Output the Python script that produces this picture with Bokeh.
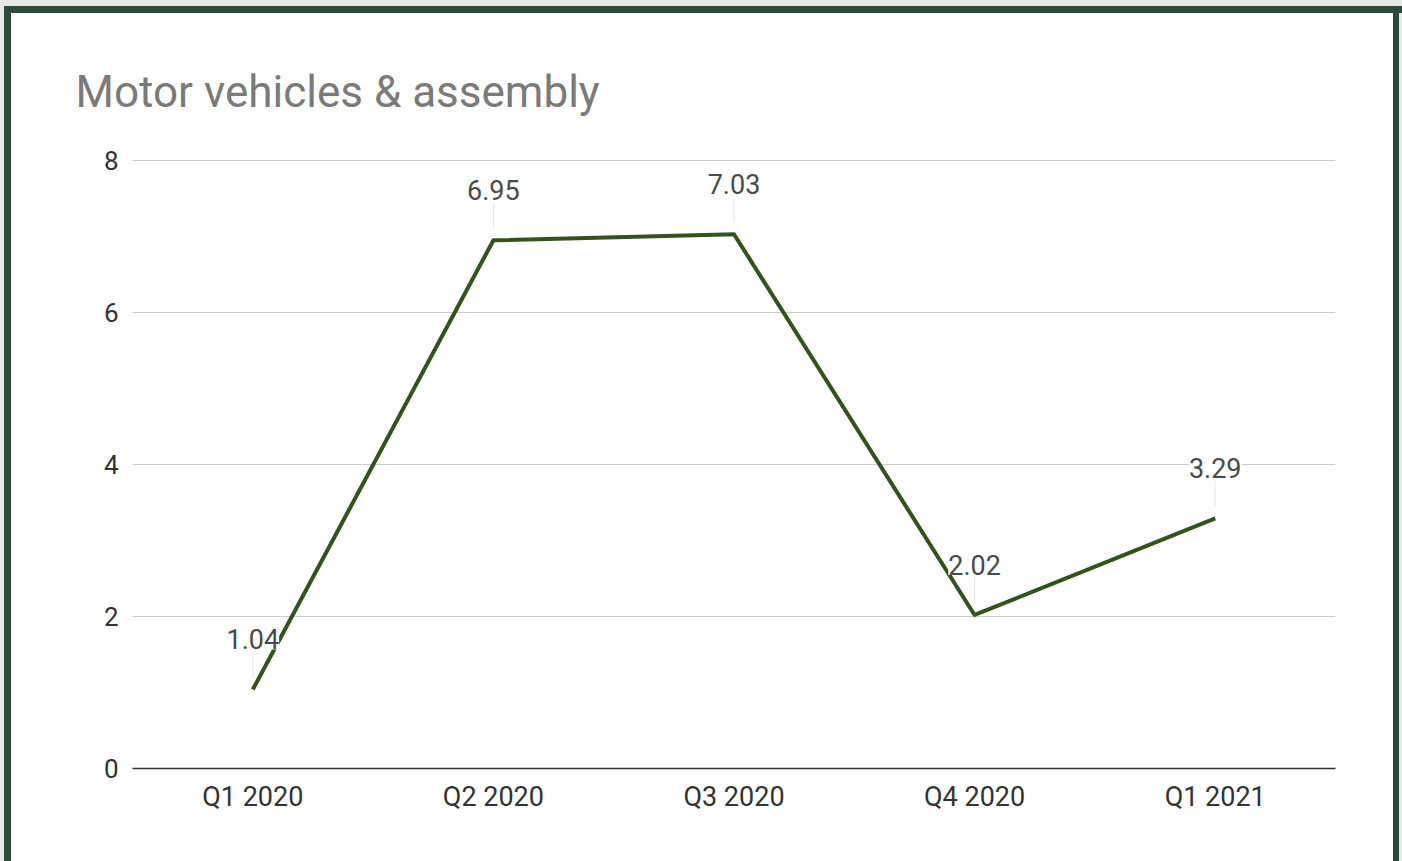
from bokeh.plotting import figure
from bokeh.models import ColumnDataSource, FactorRange, Range1d, LabelSet, FixedTicker
from bokeh.embed import file_html
from bokeh.resources import INLINE
from bokeh.core.properties import value

# ---- data ----
quarters = ["Q1 2020", "Q2 2020", "Q3 2020", "Q4 2020", "Q1 2021"]
values = [1.04, 6.95, 7.03, 2.02, 3.29]
value_labels = ["1.04", "6.95", "7.03", "2.02", "3.29"]
y_ticks = [0, 2, 4, 6, 8]
title_text = "Motor vehicles & assembly"

# ---- layout ----
W, H = 1402, 861
FRAME_LEFT, FRAME_RIGHT, FRAME_TOP, FRAME_BOTTOM = 132, 67, 158, 93
frame_h = H - FRAME_TOP - FRAME_BOTTOM
EXTRA_PX = 2
Y_TOP = 8
px = Y_TOP / (frame_h - EXTRA_PX)  # data units per pixel
Y_MAX = Y_TOP + EXTRA_PX * px

FONT = "Roboto"
LINE_COLOR = "#34521c"

p = figure(
    width=W, height=H,
    x_range=FactorRange(*quarters, range_padding=0),
    y_range=Range1d(0, Y_MAX),
    output_backend="svg", toolbar_location=None,
    min_border_left=FRAME_LEFT, min_border_right=FRAME_RIGHT,
    min_border_top=FRAME_TOP, min_border_bottom=FRAME_BOTTOM,
)
p.styles = {
    "background-color": "white",
    "box-shadow": ("inset 4px 6px 0 0 #e6e9e6, inset 11px 13px 0 0 #2d4a3b, "
                   "inset -3px 0 0 0 #e6e9e6, inset -9px 0 0 0 #2d4a3b"),
}
p.outline_line_color = None
p.background_fill_color = "white"
p.border_fill_color = None

# title
p.title.text = title_text
p.title.align = "left"
p.title.offset = -57
p.title.standoff = 82
p.title.text_font = FONT
p.title.text_font_size = "44px"
p.title.text_font_style = "normal"
p.title.text_color = "#7a7a7a"

# axes
p.yaxis.ticker = FixedTicker(ticks=y_ticks)
p.yaxis.axis_line_color = None
p.yaxis.major_tick_line_color = None
p.yaxis.minor_tick_line_color = None
p.yaxis.major_label_standoff = 8
p.yaxis.major_label_text_font = FONT
p.yaxis.major_label_text_font_size = "26px"
p.yaxis.major_label_text_color = "#333333"

p.xaxis.axis_line_color = "#333333"
p.xaxis.axis_line_width = 1.5
p.xaxis.major_tick_line_color = None
p.xaxis.minor_tick_line_color = None
p.xaxis.major_label_standoff = 6
p.xaxis.major_label_text_font = FONT
p.xaxis.major_label_text_font_size = "27px"
p.xaxis.major_label_text_color = "#333333"

p.xgrid.grid_line_color = None
p.ygrid.grid_line_color = "#cccccc"
p.ygrid.grid_line_width = 1.2

# leader lines from points to labels
lead_y0 = [v + 12 * px for v in values]
lead_y1 = [v + 38 * px for v in values]
p.segment(x0=quarters, y0=lead_y0, x1=quarters, y1=lead_y1,
          line_color="#e6e6e6", line_width=1)

# main line
p.line(x=quarters, y=values, line_color=LINE_COLOR, line_width=4, line_join="round")

# data labels
src = ColumnDataSource(dict(x=quarters, y=values, t=value_labels))
labels = LabelSet(x="x", y="y", text="t", source=src, y_offset=50,
                  text_align="center", text_baseline="middle",
                  text_font=value(FONT), text_font_size="27px",
                  text_color="#4a4a4a", background_fill_color="white")
p.add_layout(labels)

open("out.html", "w").write(file_html(p, INLINE))
